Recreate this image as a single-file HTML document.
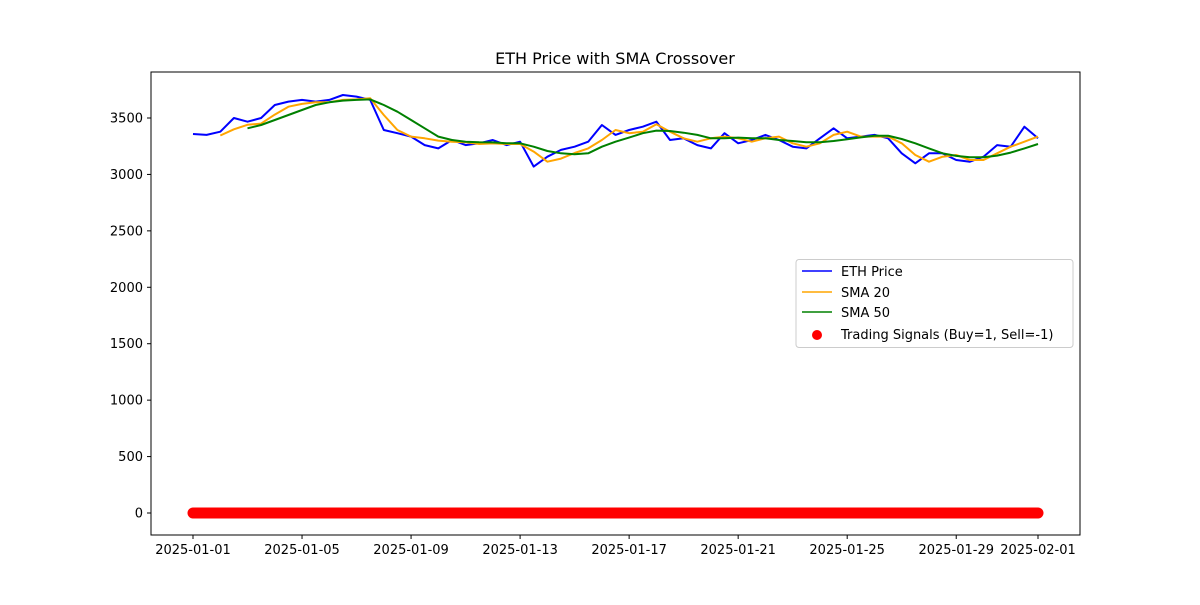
<!DOCTYPE html>
<html><head><meta charset="utf-8"><style>
body{margin:0;background:#fff;font-family:"Liberation Sans","DejaVu Sans",sans-serif}
svg text{font-family:"DejaVu Sans","Liberation Sans",sans-serif;font-size:13px;fill:#000}
</style></head><body>
<svg id="chart" width="1200" height="600" xmlns="http://www.w3.org/2000/svg">
<rect width="1200" height="600" fill="#fff"/>
<text x="615" y="64" text-anchor="middle" style="font-size:16px">ETH Price with SMA Crossover</text>
<g id="marks"></g>
<rect x="151" y="72" width="929" height="463" fill="none" stroke="#000" stroke-width="1"/>
<g id="axes"></g>
<g>
<rect x="796" y="259.5" width="277" height="88" rx="3" fill="#fff" fill-opacity="0.8" stroke="#ccc"/>
<line x1="802" y1="271" x2="832" y2="271" stroke="#0000ff" stroke-width="1.5"/>
<text x="841" y="276">ETH Price</text>
<line x1="802" y1="292" x2="832" y2="292" stroke="#ffa500" stroke-width="1.5"/>
<text x="841" y="297">SMA 20</text>
<line x1="802" y1="312" x2="832" y2="312" stroke="#008000" stroke-width="1.5"/>
<text x="841" y="317">SMA 50</text>
<circle cx="817" cy="335" r="5" fill="#ff0000"/>
<text x="841" y="339">Trading Signals (Buy=1, Sell=-1)</text>
</g>
</svg>
<script>
// days since 2025-01-01, step 0.5
const price = [3358,3350,3379,3500,3467,3500,3615,3645,3660,3645,3660,3704,3690,3660,3394,3365,3335,3260,3231,3305,3260,3276,3305,3260,3290,3069,3157,3217,3246,3290,3438,3350,3394,3423,3467,3305,3320,3260,3231,3365,3276,3305,3350,3305,3246,3231,3320,3409,3320,3335,3350,3320,3187,3099,3187,3187,3128,3113,3157,3260,3246,3423,3320];
const sma20Start = 1;
const sma20 = [3345,3400,3440,3450,3530,3600,3625,3640,3640,3660,3665,3675,3527,3394,3335,3320,3300,3290,3285,3270,3275,3270,3270,3202,3113,3140,3190,3231,3305,3394,3365,3379,3444,3379,3320,3290,3320,3335,3320,3290,3320,3335,3276,3246,3276,3350,3379,3335,3335,3335,3276,3172,3113,3157,3172,3128,3128,3187,3246,3290,3335];
const sma50Start = 2;
const sma50 = [3409,3438,3482,3527,3571,3615,3639,3654,3660,3665,3615,3556,3482,3409,3335,3305,3290,3285,3284,3276,3276,3246,3208,3187,3178,3187,3246,3290,3326,3365,3388,3385,3370,3350,3320,3320,3326,3320,3320,3305,3296,3285,3285,3296,3311,3328,3343,3343,3314,3276,3231,3187,3164,3152,3152,3167,3193,3231,3270];
const signalHours = 744;
const signalValue = 0;
const xTickLabels = ["2025-01-01","2025-01-05","2025-01-09","2025-01-13","2025-01-17","2025-01-21","2025-01-25","2025-01-29","2025-02-01"];
const xTickDays = [0,4,8,12,16,20,24,28,31];
const yTicks = [0,500,1000,1500,2000,2500,3000,3500];

const NS="http://www.w3.org/2000/svg";
const X = d => 193 + d*(845/31);
const Y = v => 513 - v*(395/3500);
const marks=document.getElementById('marks'), axes=document.getElementById('axes');
function mk(tag,attrs,parent){const e=document.createElementNS(NS,tag);for(const k in attrs)e.setAttribute(k,attrs[k]);parent.appendChild(e);return e;}

const dots=mk('g',{fill:'#ff0000'},marks);


for(let h=0;h<=signalHours;h++){mk('circle',{cx:X(h/24).toFixed(1),cy:Y(signalValue),r:5.5},dots);}

function line(arr,start,color,name){
  const pts=arr.map((v,i)=>X(start+i*0.5).toFixed(1)+','+Y(v).toFixed(1)).join(' ');
  const p=mk('polyline',{points:pts,fill:'none',stroke:color,'stroke-width':2,'stroke-linejoin':'round'},marks);
  
  
}
line(price,0,'#0000ff','eth-price-line');
line(sma20,sma20Start,'#ffa500','sma20-line');
line(sma50,sma50Start,'#008000','sma50-line');

xTickDays.forEach((d,i)=>{
  mk('line',{x1:X(d),y1:535,x2:X(d),y2:539,stroke:'#000'},axes);
  const t=mk('text',{x:X(d),y:554,'text-anchor':'middle'},axes);
  t.textContent=xTickLabels[i];
  
  
});
yTicks.forEach(v=>{
  mk('line',{x1:147,y1:Y(v),x2:151,y2:Y(v),stroke:'#000'},axes);
  const t=mk('text',{x:143,y:Y(v)+4.5,'text-anchor':'end'},axes);
  t.textContent=v;
  
  
});
</script>
</body></html>
